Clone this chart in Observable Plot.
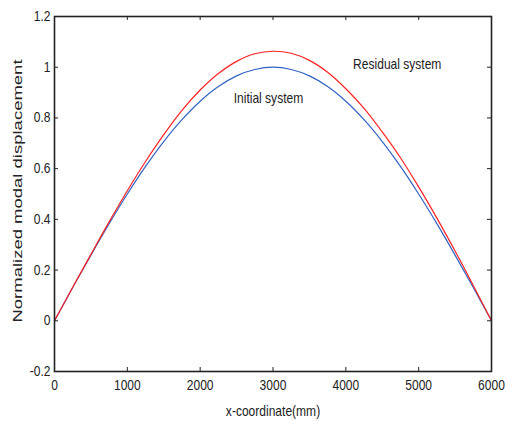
<!DOCTYPE html>
<html>
<head>
<meta charset="utf-8">
<script src="https://cdn.jsdelivr.net/npm/d3@7"></script>
<script src="https://cdn.jsdelivr.net/npm/@observablehq/plot@0.6"></script>
<style>
  html, body { margin: 0; padding: 0; background: white; }
</style>
</head>
<body>
<div id="chart"></div>
<script>
// x positions along the beam (mm)
const xs = [0, 250, 500, 750, 1000, 1250, 1500, 1750, 2000, 2250, 2500, 2750, 3000,
            3250, 3500, 3750, 4000, 4250, 4500, 4750, 5000, 5250, 5500, 5750, 6000];
// Initial system (blue)
const initial = [0, 0.131, 0.259, 0.383, 0.5, 0.609, 0.707, 0.793, 0.866, 0.924, 0.966, 0.991, 1.0,
                 0.991, 0.966, 0.924, 0.866, 0.793, 0.707, 0.609, 0.5, 0.383, 0.259, 0.131, 0];
// Residual system (red)
const residual = [0, 0.132, 0.262, 0.39, 0.513, 0.628, 0.734, 0.83, 0.91, 0.975, 1.023, 1.053, 1.063,
                  1.055, 1.027, 0.98, 0.915, 0.838, 0.745, 0.643, 0.528, 0.405, 0.275, 0.139, 0];

const xTicks = [0, 1000, 2000, 3000, 4000, 5000, 6000];
const xTickLabels = ["0", "1000", "2000", "3000", "4000", "5000", "6000"];
const yTicks = [-0.2, 0, 0.2, 0.4, 0.6, 0.8, 1, 1.2];
const yTickLabels = ["-0.2", "0", "0.2", "0.4", "0.6", "0.8", "1", "1.2"];

const annotations = [
  {x: 4100, y: 1.012, label: "Residual system"},
  {x: 2460, y: 0.878, label: "Initial system"}
];
const xLabel = "x-coordinate(mm)";
const yLabel = "Normalized modal displacement";

const initialData = xs.map((x, i) => ({x, y: initial[i]}));
const residualData = xs.map((x, i) => ({x, y: residual[i]}));

const tx = 55;      // tick length in x units (~4px)
const ty = 0.0158;  // tick length in y units (~4px)
const ink = "#222";
const font = "'Liberation Sans', Arial, sans-serif";

const chart = Plot.plot({
  width: 507,
  height: 421,
  marginLeft: 54,
  marginRight: 16,
  marginTop: 16,
  marginBottom: 50,
  x: {domain: [0, 6000]},
  y: {domain: [-0.2, 1.2]},
  style: {fontFamily: font, fontSize: "14px", color: ink, background: "white"},
  marks: [
    Plot.line(initialData, {x: "x", y: "y", stroke: "#3163c4", strokeWidth: 1.2, curve: "catmull-rom"}),
    Plot.line(residualData, {x: "x", y: "y", stroke: "#ff2222", strokeWidth: 1.2, curve: "catmull-rom"}),
    Plot.frame({stroke: ink, strokeWidth: 1.6}),
    Plot.ruleX(xTicks, {x: d => d, y1: () => -0.2, y2: () => -0.2 + ty, stroke: ink}),
    Plot.ruleX(xTicks, {x: d => d, y1: () => 1.2, y2: () => 1.2 - ty, stroke: ink}),
    Plot.ruleY(yTicks, {y: d => d, x1: () => 0, x2: () => tx, stroke: ink}),
    Plot.ruleY(yTicks, {y: d => d, x1: () => 6000, x2: () => 6000 - tx, stroke: ink}),
    Plot.axisX(xTicks, {anchor: "bottom", tickSize: 0, tickPadding: 9, label: null, tickFormat: (d) => xTickLabels[xTicks.indexOf(d)], fontSize: 14}),
    Plot.axisY(yTicks, {anchor: "left", tickSize: 0, tickPadding: 4, label: null, tickFormat: (d) => yTickLabels[yTicks.indexOf(d)], fontSize: 14}),
    Plot.text(annotations, {x: "x", y: "y", text: "label", textAnchor: "start", fontSize: 14, fill: ink}),
    Plot.text([xLabel], {frameAnchor: "bottom", dy: 40, text: d => d, textAnchor: "middle", lineAnchor: "middle", fontSize: 14, fill: ink}),
    Plot.text([yLabel], {frameAnchor: "left", dx: -37, dy: -3, rotate: -90, text: d => d, textAnchor: "middle", lineAnchor: "middle", fontSize: 18.5, fill: ink})
  ]
});

// the reference image is stretched vertically: horizontal text looks condensed,
// the vertical label looks elongated with thin glyphs
chart.querySelectorAll("text").forEach(t => {
  const tr = t.getAttribute("transform") || "";
  if (t.textContent === yLabel) {
    t.setAttribute("transform", tr + " scale(1,0.72)");
  } else {
    t.setAttribute("transform", tr + " scale(0.86,1)");
  }
});

document.getElementById("chart").appendChild(chart);
</script>
</body>
</html>
